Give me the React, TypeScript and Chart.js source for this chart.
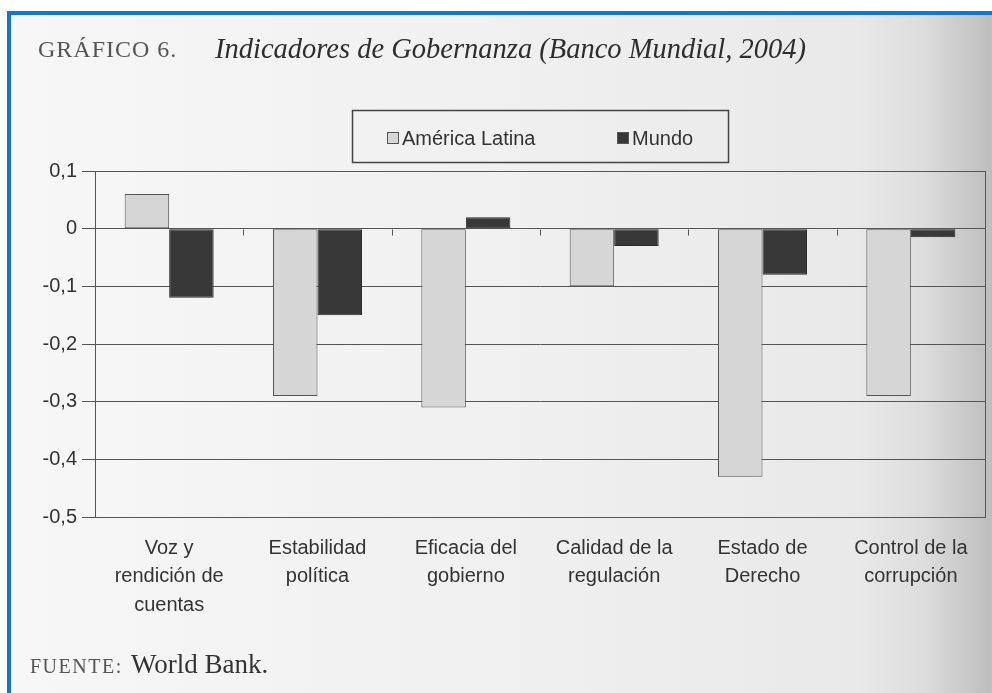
import React, { useEffect, useRef } from "react";
import { Chart, registerables } from "chart.js";
Chart.register(...registerables);

const categories = [
  ["Voz y", "rendición de", "cuentas"],
  ["Estabilidad", "política"],
  ["Eficacia del", "gobierno"],
  ["Calidad de la", "regulación"],
  ["Estado de", "Derecho"],
  ["Control de la", "corrupción"],
];
const seriesNames = ["América Latina", "Mundo"];
const americaLatina = [0.06, -0.29, -0.31, -0.1, -0.43, -0.29];
const mundo = [-0.12, -0.15, 0.02, -0.03, -0.08, -0.015];
const yTicks = [0.1, 0, -0.1, -0.2, -0.3, -0.4, -0.5];
const titleLabel = "GRÁFICO 6.";
const titleText = "Indicadores de Gobernanza (Banco Mundial, 2004)";
const sourceLabel = "FUENTE:";
const sourceText = "World Bank.";

const W = 992;
const H = 693;
const SANS = "'Liberation Sans', Arial, sans-serif";
const SERIF = "'Liberation Serif', 'Times New Roman', serif";
const LINE = "#555555";

const fmt = (v: number) => (Math.abs(v) < 1e-9 ? "0" : v.toFixed(1).replace(".", ","));

const decor = {
  id: "decor",
  beforeDraw(chart: any) {
    const ctx = chart.ctx as CanvasRenderingContext2D;
    ctx.save();
    ctx.fillStyle = "#ffffff";
    ctx.fillRect(0, 0, W, H);
    const g = ctx.createLinearGradient(11, 0, W, 0);
    g.addColorStop(0, "#f7f7f7");
    g.addColorStop(0.5, "#f0f0f0");
    g.addColorStop(0.86, "#e9e9e9");
    g.addColorStop(0.93, "#dddddd");
    g.addColorStop(1, "#bdbdbd");
    ctx.fillStyle = g;
    ctx.fillRect(11, 15, W - 11, H - 15);
    ctx.fillStyle = "#1476d2";
    ctx.fillRect(7, 11, W - 7, 4);
    ctx.fillRect(7, 11, 4, H - 11);
    ctx.restore();
  },
  afterDraw(chart: any) {
    const ctx = chart.ctx as CanvasRenderingContext2D;
    const a = chart.chartArea;
    ctx.save();
    // plot frame
    ctx.strokeStyle = LINE;
    ctx.lineWidth = 1;
    ctx.strokeRect(Math.round(a.left) + 0.5, Math.round(a.top) + 0.5, Math.round(a.right - a.left), Math.round(a.bottom - a.top));
    // category tick marks on the zero line
    const ys = chart.scales.y;
    const xs = chart.scales.x;
    const y0 = Math.round(ys.getPixelForValue(0)) + 0.5;
    ctx.beginPath();
    for (let i = 1; i < categories.length; i++) {
      const x = Math.round((xs.getPixelForValue(i - 1) + xs.getPixelForValue(i)) / 2) + 0.5;
      ctx.moveTo(x, y0);
      ctx.lineTo(x, y0 + 6);
    }
    ctx.stroke();

    // title
    ctx.textBaseline = "alphabetic";
    ctx.textAlign = "left";
    ctx.fillStyle = "#555";
    ctx.font = `24px ${SERIF}`;
    (ctx as any).letterSpacing = "1px";
    ctx.fillText(titleLabel, 38, 57);
    (ctx as any).letterSpacing = "0px";
    ctx.fillStyle = "#2e2e2e";
    ctx.font = `italic 28.5px ${SERIF}`;
    ctx.fillText(titleText, 215, 58);

    // legend
    const ds = chart.data.datasets;
    ctx.strokeStyle = "#444";
    ctx.lineWidth = 1.5;
    ctx.strokeRect(352.5, 110.5, 376, 52);
    const items = [
      { x: 387, tx: 402 },
      { x: 617, tx: 632 },
    ];
    ctx.font = `20px ${SANS}`;
    items.forEach((it, i) => {
      ctx.fillStyle = ds[i].backgroundColor;
      ctx.fillRect(it.x, 132, 12, 12);
      ctx.strokeStyle = "#555";
      ctx.lineWidth = 1;
      ctx.strokeRect(it.x + 0.5, 132.5, 11, 11);
      ctx.fillStyle = "#333";
      ctx.fillText(ds[i].label, it.tx, 145);
    });

    // source
    ctx.fillStyle = "#555";
    ctx.font = `20px ${SERIF}`;
    (ctx as any).letterSpacing = "1.5px";
    ctx.fillText(sourceLabel, 30, 673);
    (ctx as any).letterSpacing = "0px";
    ctx.fillStyle = "#333";
    ctx.font = `27px ${SERIF}`;
    ctx.fillText(sourceText, 131, 673);
    ctx.restore();
  },
};

export default function App() {
  const ref = useRef<HTMLCanvasElement | null>(null);
  useEffect(() => {
    if (!ref.current) return;
    Chart.defaults.font.family = SANS;
    const chart = new Chart(ref.current, {
      type: "bar",
      data: {
        labels: categories,
        datasets: [
          {
            label: seriesNames[0],
            data: americaLatina,
            backgroundColor: "#d6d6d6",
            borderColor: "#555555",
            borderWidth: 1,
            borderSkipped: false,
          },
          {
            label: seriesNames[1],
            data: mundo,
            backgroundColor: "#383838",
            borderColor: "#2a2a2a",
            borderWidth: 1,
            borderSkipped: false,
          },
        ],
      },
      options: {
        animation: false,
        responsive: false,
        devicePixelRatio: 1,
        layout: { padding: { left: 0, top: 171, right: 7, bottom: 0 } },
        datasets: { bar: { categoryPercentage: 0.6, barPercentage: 1.0 } },
        plugins: { legend: { display: false }, title: { display: false }, tooltip: { enabled: false } },
        scales: {
          x: {
            grid: { display: false, drawTicks: false, tickLength: 0 },
            border: { display: true, color: LINE },
            ticks: {
              color: "#333",
              padding: 17,
              maxRotation: 0,
              autoSkip: false,
              font: { size: 20, lineHeight: 1.43 },
            },
            afterFit: (s: any) => {
              s.height = H - 517;
            },
          },
          y: {
            min: -0.5,
            max: 0.1,
            grid: { color: LINE, lineWidth: 1, tickLength: 13, drawTicks: true },
            border: { display: true, color: LINE },
            ticks: {
              color: "#333",
              padding: 5,
              font: { size: 20 },
              callback: (v: any) => fmt(Number(v)),
            },
            afterBuildTicks: (s: any) => {
              s.ticks = yTicks.map((v) => ({ value: v }));
            },
            afterFit: (s: any) => {
              s.width = 95;
            },
          },
        },
      },
      plugins: [decor],
    });
    return () => chart.destroy();
  }, []);
  return (
    <div style={{ position: "fixed", left: 0, top: 0, width: W, height: H }}>
      <canvas ref={ref} width={W} height={H} style={{ display: "block", width: W, height: H }} />
    </div>
  );
}
